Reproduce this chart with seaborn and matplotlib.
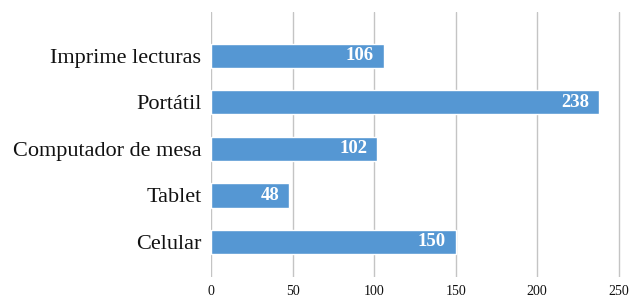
import matplotlib
matplotlib.use("Agg")
import matplotlib.pyplot as plt
import seaborn as sns
import pandas as pd

# Datos
dispositivos = ["Imprime lecturas", "Portátil", "Computador de mesa", "Tablet", "Celular"]
cantidades = [106, 238, 102, 48, 150]
ticks_x = [0, 50, 100, 150, 200, 250]

df = pd.DataFrame({"Dispositivo": dispositivos, "Cantidad": cantidades})

sns.set_style("white")
plt.rcParams["font.family"] = ["Liberation Serif", "DejaVu Serif"]

fig = plt.figure(figsize=(6.32, 3.0), dpi=100)
ax = fig.add_axes([0.334, 0.077, 0.65, 0.883])

sns.barplot(data=df, x="Cantidad", y="Dispositivo", order=dispositivos,
            color="#5597d3", saturation=1, width=0.52, ax=ax)

# Etiquetas de valor dentro de cada barra
for i, v in enumerate(cantidades):
    ax.text(v - 6, i, str(v), color="white", fontweight="bold",
            fontsize=13.5, ha="right", va="center")

ax.set_xlim(0, 252)
ax.set_ylim(4.75, -0.94)
ax.set_xticks(ticks_x)
ax.set_xticklabels([str(t) for t in ticks_x], fontsize=10)
ax.tick_params(axis="y", labelsize=16, length=0, pad=7, labelcolor="#111111")
ax.tick_params(axis="x", length=0, pad=6, labelcolor="#111111")
ax.xaxis.grid(True, color="#c4c4c4", linewidth=1)
ax.set_axisbelow(True)
ax.set_xlabel("")
ax.set_ylabel("")
for s in ax.spines.values():
    s.set_visible(False)

fig.savefig("out.png", dpi=100)
